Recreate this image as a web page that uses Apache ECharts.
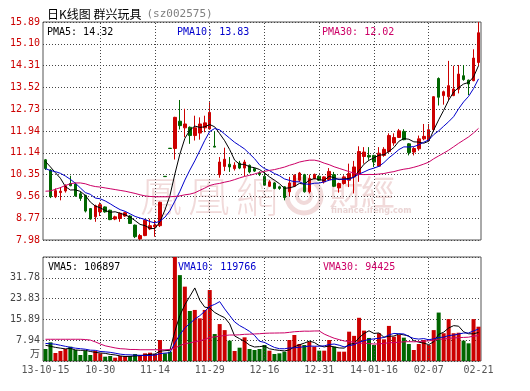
<!DOCTYPE html>
<html><head><meta charset="utf-8">
<script src="https://cdn.jsdelivr.net/npm/echarts@6/dist/echarts.min.js"></script>
<style>html,body{margin:0;padding:0;background:#fff;}#c{width:530px;height:391px;}</style>
</head><body><div id="c"></div>
<script>
const dates = ['2013-10-15','2013-10-16','2013-10-17','2013-10-18','2013-10-21','2013-10-22','2013-10-23','2013-10-24','2013-10-25','2013-10-28','2013-10-29','2013-10-30','2013-10-31',
'2013-11-01','2013-11-04','2013-11-05','2013-11-06','2013-11-07','2013-11-08','2013-11-11','2013-11-12','2013-11-13','2013-11-14','2013-11-15','2013-11-18','2013-11-19','2013-11-20','2013-11-21','2013-11-22','2013-11-25','2013-11-26','2013-11-27','2013-11-28','2013-11-29',
'2013-12-02','2013-12-03','2013-12-04','2013-12-05','2013-12-06','2013-12-09','2013-12-10','2013-12-11','2013-12-12','2013-12-13','2013-12-16','2013-12-17','2013-12-18','2013-12-19','2013-12-20','2013-12-23','2013-12-24','2013-12-25','2013-12-26','2013-12-27','2013-12-30','2013-12-31',
'2014-01-02','2014-01-03','2014-01-06','2014-01-07','2014-01-08','2014-01-09','2014-01-10','2014-01-13','2014-01-14','2014-01-15','2014-01-16','2014-01-17','2014-01-20','2014-01-21','2014-01-22','2014-01-23','2014-01-24','2014-01-27','2014-01-28','2014-01-29','2014-01-30',
'2014-02-07','2014-02-10','2014-02-11','2014-02-12','2014-02-13','2014-02-14','2014-02-17','2014-02-18','2014-02-19','2014-02-20','2014-02-21'];

const opens = [10.89,10.52,9.55,9.70,9.76,10.03,10.01,9.66,9.60,9.12,
8.82,9.00,9.18,9.06,8.74,8.76,8.85,8.85,8.52,8.02,
8.14,8.38,8.46,8.50,10.29,11.31,11.30,12.29,12.05,12.07,
11.77,11.86,12.05,12.01,11.38,10.35,10.65,10.73,10.57,10.77,
10.59,10.69,10.57,10.41,10.29,9.93,10.05,9.91,9.91,9.73,
9.93,10.15,10.35,9.73,10.21,10.29,10.09,10.17,10.35,9.87,
10.03,10.15,10.27,10.36,11.01,11.05,11.05,10.66,11.05,11.19,
11.50,11.70,11.92,11.47,11.17,11.29,11.65,11.59,11.98,13.84,
13.22,13.18,13.22,13.45,13.94,13.78,13.76,14.42];
const closes = [10.57,9.55,9.77,9.75,9.95,9.95,9.58,9.49,9.03,8.74,
9.22,9.26,9.00,8.72,8.82,8.95,8.97,8.58,8.10,8.14,
8.70,8.50,8.52,9.35,10.28,11.30,12.43,12.13,12.19,11.77,
12.05,12.19,12.23,12.61,11.35,10.81,10.91,10.63,10.69,10.59,
10.81,10.45,10.48,10.36,9.97,10.09,9.85,9.85,9.52,10.05,
10.33,10.41,9.73,10.21,10.36,10.15,10.27,10.47,9.93,10.03,
10.27,10.39,10.63,11.19,11.17,10.99,10.81,11.13,11.27,11.77,
11.70,11.94,11.62,11.15,11.30,11.65,11.74,11.98,13.18,13.16,
13.36,13.58,13.46,14.00,13.80,13.64,14.58,15.50];
const highs = [10.92,10.55,9.85,9.90,10.00,10.31,10.06,9.74,9.62,9.14,
9.26,9.34,9.20,9.08,8.86,8.98,9.00,8.88,8.54,8.20,
8.74,8.75,8.70,9.37,10.29,11.31,12.45,13.06,12.74,12.10,
12.49,12.43,12.49,12.98,11.92,10.99,11.33,10.99,10.80,10.85,
10.89,10.72,10.60,10.47,10.45,10.15,10.08,9.95,9.93,10.27,
10.36,10.45,10.38,10.35,10.39,10.33,10.29,10.59,10.45,10.06,
10.33,10.75,10.85,11.38,11.35,11.35,11.07,11.35,11.35,11.85,
11.85,12.01,12.00,11.50,11.35,11.77,12.19,12.19,13.20,13.88,
13.40,14.48,14.30,14.33,14.33,13.80,14.90,15.89];
const lows = [10.52,9.50,9.50,9.42,9.70,9.93,9.55,9.40,8.98,8.72,
8.64,8.85,8.97,8.70,8.70,8.64,8.82,8.56,8.05,7.98,
8.12,8.34,8.10,8.45,10.28,11.30,10.90,11.99,11.71,11.47,
11.59,11.62,11.89,11.98,11.35,10.24,10.48,10.45,10.50,10.55,
10.29,10.40,10.45,10.30,9.95,9.90,9.82,9.80,9.42,9.57,
9.90,10.09,9.70,9.67,10.18,10.12,10.03,10.12,9.90,9.70,
9.99,9.90,9.67,10.09,10.75,10.89,10.63,10.63,11.00,11.15,
11.40,11.68,11.60,11.05,11.05,11.22,11.60,11.56,11.95,12.86,
12.89,13.04,13.20,13.30,13.76,13.24,13.74,14.30];
const volumes = [4.58,7.13,3.06,3.82,4.58,5.47,4.20,2.29,3.95,2.29,
3.82,2.93,1.65,1.91,1.27,1.91,1.91,1.91,2.67,1.91,
2.93,3.18,2.67,8.02,2.93,3.56,39.72,32.8,28.4,19.1,
19.5,16.3,19.5,27.1,10.3,14.1,11.8,7.77,3.82,5.09,
9.04,4.58,4.20,4.58,6.11,3.95,2.67,2.93,3.56,8.02,
9.93,6.49,6.11,7.38,5.47,3.95,3.95,8.02,5.47,3.56,
3.56,11.2,9.6,16.5,11.6,8.8,6.11,10.6,8.27,13.4,
9.29,9.93,8.91,6.49,4.20,6.49,8.02,6.11,11.8,18.5,
10.6,16.0,10.6,10.8,7.77,6.75,16.0,13.1];

// moving-average values for the first days (before a full window exists)
const ma5Head = [10.83,10.63,10.42,10.22];
const ma10Head = [10.57,10.50,10.46,10.40,10.30,10.18,10.04,9.87,9.70];
const ma30Head = [9.75,9.76,9.82,9.88,9.96,10.02,10.05,10.05,10.02,9.96,9.92,9.90,9.87,9.84,9.81,9.78,9.75,9.71,9.67,9.62,9.58,9.56,9.55,9.55,9.55,9.55,9.56,9.58,9.62];
const vma5Head = [6.0,5.6,5.2,4.9];
const vma10Head = [6.7,6.6,6.4,6.0,5.6,5.2,4.9,4.7,4.5];
const vma30Head = [8.3,8.3,8.3,8.3,8.3,8.3,8.3,8.3,8.2,8.0,7.3,6.5,5.8,5.4,5.0,4.7,4.6,4.4,4.4,4.3,4.3,4.3,4.3,4.3,4.3,4.4,4.9,5.9,6.6];

const tickIdx = [0,11,22,33,44,55,66,77,87];
const tickText = ['13-10-15','10-30','11-14','11-29','12-16','12-31','14-01-16','02-07','02-21'];
const gridIdx = [11,22,33,44,55,66,77];

const priceLegend = ['PMA5: 14.32','PMA10: 13.83','PMA30: 12.02'];
const volLegend = ['VMA5: 106897','VMA10: 119766','VMA30: 94425'];

const priceMin = 7.98, priceMax = 15.89;
const volMax = 39.72;

function movingAvg(vals, n, head){
  return vals.map((v,i)=>{
    if(i < n-1) return head[i];
    let s = 0; for(let k=i-n+1;k<=i;k++) s += vals[k];
    return +(s/n).toFixed(3);
  });
}

const RED = '#cc0000', GREEN = '#006600';
const LINE_COLORS = ['#000000','#0000cc','#cc0066'];
const MONO = '"DejaVu Sans Mono", monospace';

const candleData = opens.map((o,i)=>[o, closes[i], lows[i], highs[i]]);
const priceMAs = [movingAvg(closes,5,ma5Head), movingAvg(closes,10,ma10Head), movingAvg(closes,30,ma30Head)];
const volMAs = [movingAvg(volumes,5,vma5Head), movingAvg(volumes,10,vma10Head), movingAvg(volumes,30,vma30Head)];

const gridLineStyle = {color:'#444', width:1, type:[1,2]};
const vMark = {
  silent:true, symbol:['none','none'], animation:false,
  label:{show:false},
  lineStyle:gridLineStyle,
  emphasis:{disabled:true},
  data: gridIdx.map(i=>({xAxis: dates[i]}))
};

const chart = echarts.init(document.getElementById('c'), null, {renderer:'canvas'});

const legendX = [47, 177, 322];
const graphics = [];
priceLegend.forEach((t,k)=>graphics.push({type:'text', x:legendX[k], y:32, z:100,
  style:{text:t, fill:LINE_COLORS[k], font:'10px '+MONO, verticalAlign:'middle'}}));
volLegend.forEach((t,k)=>graphics.push({type:'text', x:legendX[k]+1, y:267, z:100,
  style:{text:t, fill:LINE_COLORS[k], font:'10px '+MONO, verticalAlign:'middle'}}));
// watermark
const wm = '#f1dada';
[['鳳',140],['凰',188],['網',236]].forEach(([c,x])=>graphics.push({type:'text', x:x, y:196, z:-10, silent:true,
  style:{text:c, fill:wm, font:'300 42px "Noto Sans CJK TC"', verticalAlign:'middle'}}));
graphics.push({type:'circle', z:-10, silent:true, shape:{cx:304, cy:196, r:17}, style:{fill:'none', stroke:wm, lineWidth:5}});
graphics.push({type:'circle', z:-10, silent:true, shape:{cx:304, cy:196, r:7}, style:{fill:'none', stroke:wm, lineWidth:4}});
[['財',329],['經',361]].forEach(([c,x])=>graphics.push({type:'text', x:x, y:192, z:-10, silent:true,
  style:{text:c, fill:wm, font:'34px "Noto Sans CJK TC"', verticalAlign:'middle'}}));
graphics.push({type:'text', x:331, y:211, z:-10, silent:true,
  style:{text:'finance.ifeng.com', fill:'#ead4d4', font:'bold 8px "DejaVu Sans"', verticalAlign:'middle'}});

const option = {
  animation:false,
  backgroundColor:'#ffffff',
  title:{
    left:42, top:0,
    text:'{a|日K线图 群兴玩具} {b|(sz002575)}',
    textStyle:{fontWeight:'normal', rich:{
      a:{fontFamily:'"Noto Sans CJK SC"', fontSize:12, fontWeight:'normal', color:'#000'},
      b:{fontFamily:MONO, fontSize:11, fontWeight:'normal', color:'#808080'}
    }}
  },
  graphic: graphics,
  grid:[
    {left:43, top:22, width:438, height:218, show:true, borderColor:'#555', borderWidth:1, backgroundColor:'transparent', outerBoundsMode:'none'},
    {left:43, top:257, width:438, height:104, show:true, borderColor:'#555', borderWidth:1, backgroundColor:'transparent', outerBoundsMode:'none'}
  ],
  xAxis:[
    {type:'category', gridIndex:0, data:dates, boundaryGap:true,
     axisLine:{show:false}, axisTick:{show:false}, axisLabel:{show:false}, splitLine:{show:false}},
    {type:'category', gridIndex:1, data:dates, boundaryGap:true,
     axisLine:{show:false}, axisTick:{show:false}, splitLine:{show:false},
     axisLabel:{show:true, margin:4, color:'#555', fontFamily:MONO, fontSize:10, hideOverlap:false,
       interval:(idx)=>tickIdx.indexOf(idx)>=0,
       formatter:(val,idx)=>{const k=tickIdx.indexOf(idx); return k>=0?tickText[k]:'';}}}
  ],
  yAxis:[
    {type:'value', gridIndex:0, min:priceMin, max:priceMax, interval:(priceMax-priceMin)/10, scale:true,
     axisLine:{show:false}, axisTick:{show:false},
     splitLine:{show:true, lineStyle:gridLineStyle},
     axisLabel:{color:RED, fontFamily:MONO, fontSize:10, margin:3, showMinLabel:true, showMaxLabel:true,
       formatter:(v)=>(Math.round(v*100+1e-6)/100).toFixed(2)}},
    {type:'value', gridIndex:1, min:0, max:volMax, interval:volMax/5,
     axisLine:{show:false}, axisTick:{show:false},
     splitLine:{show:true, lineStyle:gridLineStyle},
     axisLabel:{color:'#444', fontFamily:MONO, fontSize:10, margin:3, showMinLabel:true, showMaxLabel:true,
       formatter:(v)=>{ if(v===0) return '{w|万}'; if(Math.abs(v-volMax)<1e-6) return ''; return (Math.round(v*100+1e-6)/100).toFixed(2);},
       rich:{w:{fontFamily:'"Noto Sans CJK SC"', fontSize:10, color:'#444', padding:[0,0,16,0]}}}}
  ],
  series:[
    {type:'candlestick', name:'K', xAxisIndex:0, yAxisIndex:0, data:candleData, barWidth:3,
     itemStyle:{color:RED, color0:GREEN, borderColor:RED, borderColor0:GREEN, borderWidth:1},
     markLine:vMark},
    ...priceMAs.map((d,k)=>({type:'line', xAxisIndex:0, yAxisIndex:0, data:d, symbol:'none', smooth:false,
      lineStyle:{color:LINE_COLORS[k], width:1}, z:5})),
    {type:'bar', name:'VOL', xAxisIndex:1, yAxisIndex:1, data:volumes, barWidth:4,
     itemStyle:{color:(p)=> closes[p.dataIndex] >= opens[p.dataIndex] ? RED : GREEN},
     markLine:vMark},
    ...volMAs.map((d,k)=>({type:'line', xAxisIndex:1, yAxisIndex:1, data:d, symbol:'none', smooth:false,
      lineStyle:{color:LINE_COLORS[k], width:1}, z:5}))
  ]
};
chart.setOption(option);
</script>
</body></html>
